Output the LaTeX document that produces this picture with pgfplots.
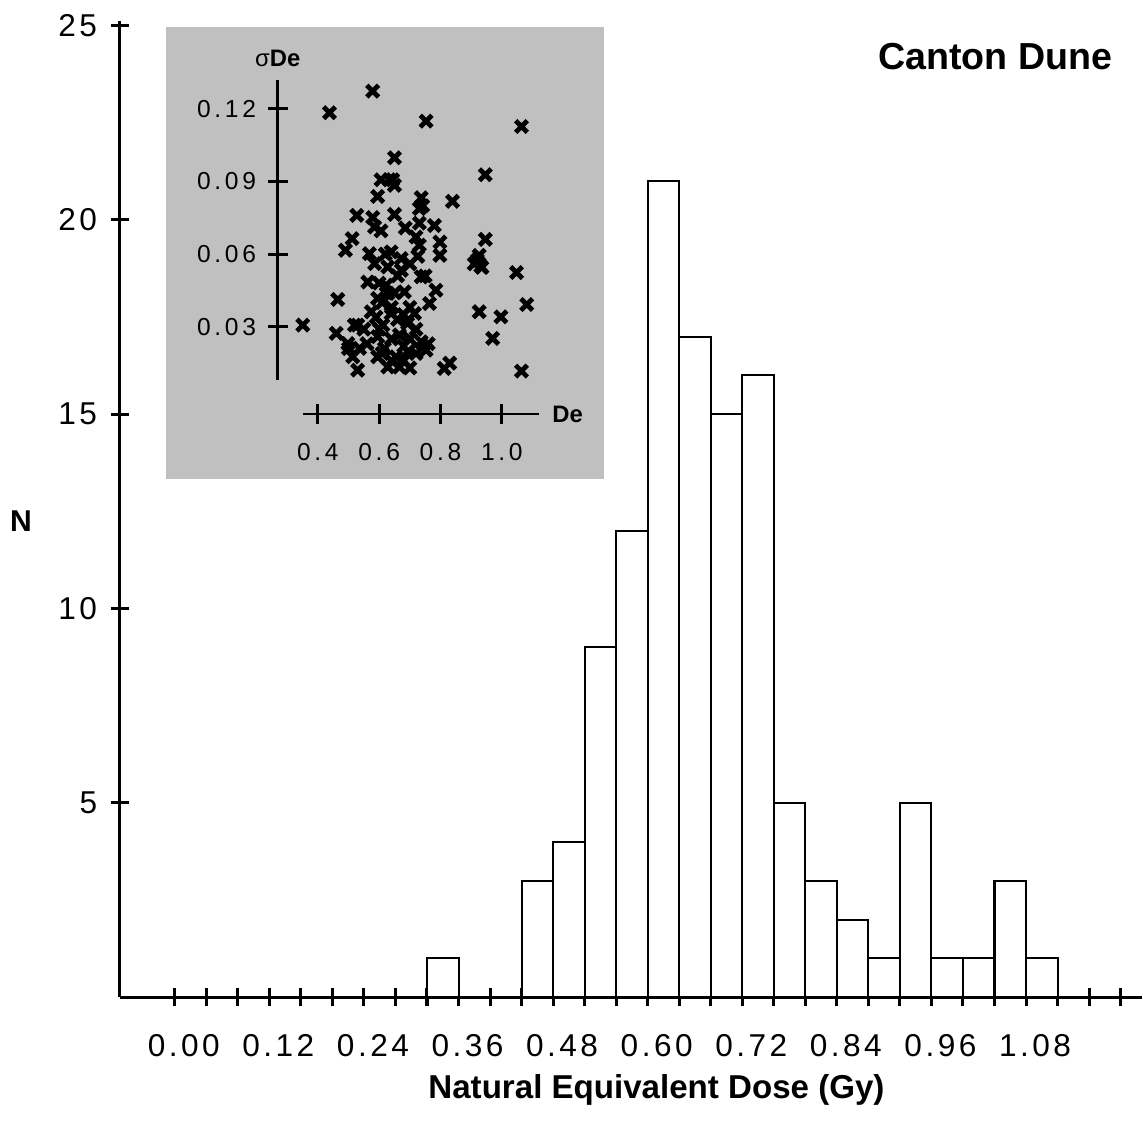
\documentclass[border=0pt]{standalone}
\usepackage{fontspec}
\setmainfont{Liberation Sans}
\newfontfamily\tickfont{Liberation Sans}[LetterSpace=11]
\newfontfamily\insetfont{Liberation Sans}[LetterSpace=15]
\usepackage{pgfplots}
\pgfplotsset{compat=1.18}
\definecolor{insetgray}{RGB}{192,192,192}

\begin{document}
\begin{tikzpicture}
\begin{scope}[x=0.014cm,y=0.014cm]
\useasboundingbox (0,0) rectangle (1143,1131);
\fill[insetgray] (166,1104) rectangle (604,652);
\end{scope}

% main histogram, bins of 0.04 Gy
\begin{axis}[
    at={(1.68cm,1.862cm)}, anchor=south west,
    scale only axis, width=14.322cm, height=13.692cm,
    xmin=-0.0697, xmax=1.2265, ymin=0, ymax=25.13,
    axis x line=bottom, axis y line=left,
    axis line style={-, line width=1.2pt},
    tick align=center,
    major tick length=0.25cm, minor tick length=0.25cm,
    tick style={black, line width=1.2pt},
    xtick={0,0.12,0.24,0.36,0.48,0.60,0.72,0.84,0.96,1.08},
    xticklabels={0.00,0.12,0.24,0.36,0.48,0.60,0.72,0.84,0.96,1.08},
    minor xtick={0.04,0.08,0.16,0.20,0.28,0.32,0.40,0.44,0.52,0.56,0.64,0.68,0.76,0.80,0.88,0.92,1.00,1.04,1.12,1.16,1.20},
    ytick={5,10,15,20,25},
    yticklabels={5,10,15,20,25},
    xticklabel style={font=\tickfont\fontsize{12.6}{14}\selectfont, xshift=0.126cm, yshift=-0.27cm},
    yticklabel style={font=\tickfont\fontsize{12.6}{14}\selectfont, xshift=-0.07cm},
]
\addplot[ybar interval, fill=white, draw=black, line width=0.8pt] coordinates {
    (0.32,1) (0.36,1)
};
\addplot[ybar interval, fill=white, draw=black, line width=0.8pt] coordinates {
    (0.44,3) (0.48,4) (0.52,9) (0.56,12) (0.60,21) (0.64,17) (0.68,15)
    (0.72,16) (0.76,5) (0.80,3) (0.84,2) (0.88,1) (0.92,5) (0.96,1)
    (1.00,1) (1.04,3) (1.08,1) (1.12,1)
};
\end{axis}

% inset: sigma De against De
\begin{axis}[
    at={(3.892cm,10.514cm)}, anchor=south west,
    scale only axis, width=3.668cm, height=4.2cm,
    xmin=0.269, xmax=1.122, ymin=0.008, ymax=0.1317,
    axis x line=bottom, axis y line=left,
    axis line style={-, line width=1.1pt},
    axis x line shift=0.476cm,
    x axis line style={shorten <=0.35cm},
    tick align=center, major tick length=0.28cm,
    tick style={black, line width=1.1pt},
    xtick={0.4,0.6,0.8,1.0}, xticklabels={0.4,0.6,0.8,1.0},
    ytick={0.03,0.06,0.09,0.12}, yticklabels={0.03,0.06,0.09,0.12},
    xticklabel style={font=\insetfont\fontsize{9.8}{11}\selectfont, yshift=-0.15cm},
    yticklabel style={font=\insetfont\fontsize{9.8}{11}\selectfont, xshift=-0.04cm},
]
\addplot[only marks, mark=x, mark size=3.3pt, mark options={line width=1.9pt}] coordinates {
    (0.579,0.1273) (0.438,0.1184) (0.753,0.1149) (1.064,0.1127) (0.946,0.0928)
    (0.351,0.0307) (0.946,0.0661) (0.926,0.0595) (0.910,0.0560) (0.931,0.0550)
    (0.920,0.0575) (0.935,0.0545) (1.048,0.0524) (1.081,0.0392) (0.926,0.0362)
    (0.997,0.0341) (0.970,0.0252) (1.064,0.0117) (0.839,0.0818) (0.812,0.0128)
    (0.830,0.0150) (0.465,0.0413)
    (0.650,0.0998) (0.606,0.0907) (0.633,0.0907) (0.644,0.0907) (0.650,0.0884)
    (0.595,0.0838) (0.737,0.0833) (0.731,0.0788) (0.742,0.0800) (0.527,0.0760)
    (0.650,0.0764) (0.579,0.0751) (0.585,0.0712) (0.606,0.0696) (0.685,0.0708)
    (0.731,0.0728) (0.780,0.0718) (0.720,0.0671) (0.512,0.0664) (0.490,0.0616)
    (0.798,0.0650) (0.798,0.0595) (0.731,0.0637) (0.726,0.0591) (0.568,0.0602)
    (0.639,0.0609) (0.672,0.0582) (0.585,0.0561) (0.628,0.0547) (0.672,0.0533)
    (0.737,0.0506) (0.750,0.0510) (0.563,0.0485) (0.623,0.0472) (0.682,0.0444)
    (0.785,0.0451) (0.595,0.0417) (0.628,0.0438) (0.764,0.0396) (0.574,0.0362)
    (0.639,0.0355) (0.715,0.0355) (0.519,0.0307) (0.530,0.0307) (0.612,0.0307)
    (0.693,0.0314) (0.460,0.0273) (0.595,0.0259) (0.666,0.0266) (0.737,0.0238)
    (0.498,0.0231) (0.536,0.0211) (0.617,0.0211) (0.693,0.0197) (0.753,0.0204)
    (0.514,0.0176) (0.595,0.0176) (0.655,0.0176) (0.628,0.0134) (0.666,0.0134)
    (0.530,0.0121) (0.600,0.0480) (0.610,0.0400) (0.650,0.0440) (0.590,0.0340)
    (0.660,0.0330) (0.700,0.0380) (0.720,0.0290) (0.600,0.0290) (0.640,0.0250)
    (0.700,0.0250) (0.560,0.0230) (0.610,0.0190) (0.680,0.0160) (0.640,0.0160)
    (0.700,0.0130) (0.500,0.0210) (0.660,0.0510) (0.700,0.0560) (0.620,0.0600)
    (0.760,0.0230) (0.680,0.0220) (0.720,0.0190) (0.550,0.0290) (0.640,0.0380)
    (0.680,0.0350)
};
\end{axis}

\begin{scope}[x=0.014cm,y=0.014cm]
\node[font=\fontsize{9.5}{11}\selectfont] at (278,1073) {σ\textbf{De}};
\node[font=\bfseries\fontsize{9.5}{11}\selectfont] at (568,716) {De};
\node[font=\bfseries\fontsize{15}{18}\selectfont, anchor=base] at (996,1061) {Canton Dune};
\node[font=\bfseries\fontsize{13.2}{16}\selectfont, anchor=base] at (657,32) {Natural Equivalent Dose (Gy)};
\node[font=\bfseries\fontsize{12}{14}\selectfont] at (21,609) {N};
\end{scope}
\end{tikzpicture}
\end{document}
